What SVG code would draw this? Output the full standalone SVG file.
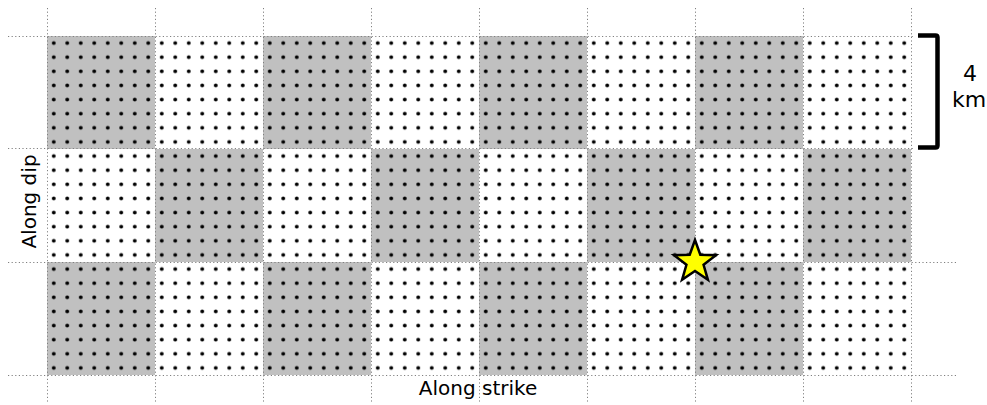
<svg xmlns="http://www.w3.org/2000/svg" width="987" height="405" viewBox="0 0 987 405">
  <style>
    .g { fill: #c0c0c0; }
    .grid { stroke: #808080; stroke-width: 1; stroke-dasharray: 1.2 2.4; fill: none; }
    .lbl { font-family: "DejaVu Sans", sans-serif; fill: #000; }
  </style>
  <defs>
    <pattern id="dots" patternUnits="userSpaceOnUse" x="47" y="36" width="13.5" height="14.125">
      <circle cx="6.75" cy="7.06" r="1.9" fill="#000"/>
    </pattern>
  </defs>
  <rect width="987" height="405" fill="#fff"/>
  <g id="cells">
    <rect class="g" x="47" y="36" width="108" height="113"/>
    <rect class="g" x="263" y="36" width="108" height="113"/>
    <rect class="g" x="479" y="36" width="108" height="113"/>
    <rect class="g" x="695" y="36" width="108" height="113"/>
    <rect class="g" x="155" y="149" width="108" height="113"/>
    <rect class="g" x="371" y="149" width="108" height="113"/>
    <rect class="g" x="587" y="149" width="108" height="113"/>
    <rect class="g" x="803" y="149" width="108" height="113"/>
    <rect class="g" x="47" y="262" width="108" height="113"/>
    <rect class="g" x="263" y="262" width="108" height="113"/>
    <rect class="g" x="479" y="262" width="108" height="113"/>
    <rect class="g" x="695" y="262" width="108" height="113"/>
  </g>
  <g id="dotfield">
    <rect x="47" y="36" width="864" height="339" fill="url(#dots)"/>
  </g>
  <g id="gridlines" class="grid">
    <line x1="47.5" y1="8" x2="47.5" y2="402"/>
    <line x1="155.5" y1="8" x2="155.5" y2="402"/>
    <line x1="263.5" y1="8" x2="263.5" y2="402"/>
    <line x1="371.5" y1="8" x2="371.5" y2="402"/>
    <line x1="479.5" y1="8" x2="479.5" y2="402"/>
    <line x1="587.5" y1="8" x2="587.5" y2="402"/>
    <line x1="695.5" y1="8" x2="695.5" y2="402"/>
    <line x1="803.5" y1="8" x2="803.5" y2="402"/>
    <line x1="911.5" y1="8" x2="911.5" y2="402"/>
    <line x1="8" y1="36.5" x2="914" y2="36.5"/>
    <line x1="8" y1="148.5" x2="914" y2="148.5"/>
    <line x1="8" y1="262.5" x2="957" y2="262.5"/>
    <line x1="8" y1="375.5" x2="957" y2="375.5"/>
  </g>
  <g id="scale">
    <path d="M918 35.5 H935.5 Q937.5 35.5 937.5 37.5 V145.5 Q937.5 147.5 935.5 147.5 H918" fill="none" stroke="#000" stroke-width="4.5"/>
    <text class="lbl" x="970" y="81" font-size="22" text-anchor="middle">4</text>
    <text class="lbl" x="969" y="107" font-size="22" text-anchor="middle">km</text>
  </g>
  <g id="hypocenter">
    <polygon points="695,240 700.29,254.72 715.92,255.2 703.56,264.78 707.93,279.8 695,271 682.07,279.8 686.44,264.78 674.08,255.2 689.71,254.72" fill="#ffff00" stroke="#000" stroke-width="2.5" stroke-linejoin="miter"/>
  </g>
  <g id="axis-labels">
    <text class="lbl" x="478" y="395" font-size="20" text-anchor="middle">Along strike</text>
    <text class="lbl" transform="translate(36,201.5) rotate(-90)" x="0" y="0" font-size="20" text-anchor="middle">Along dip</text>
  </g>
</svg>
